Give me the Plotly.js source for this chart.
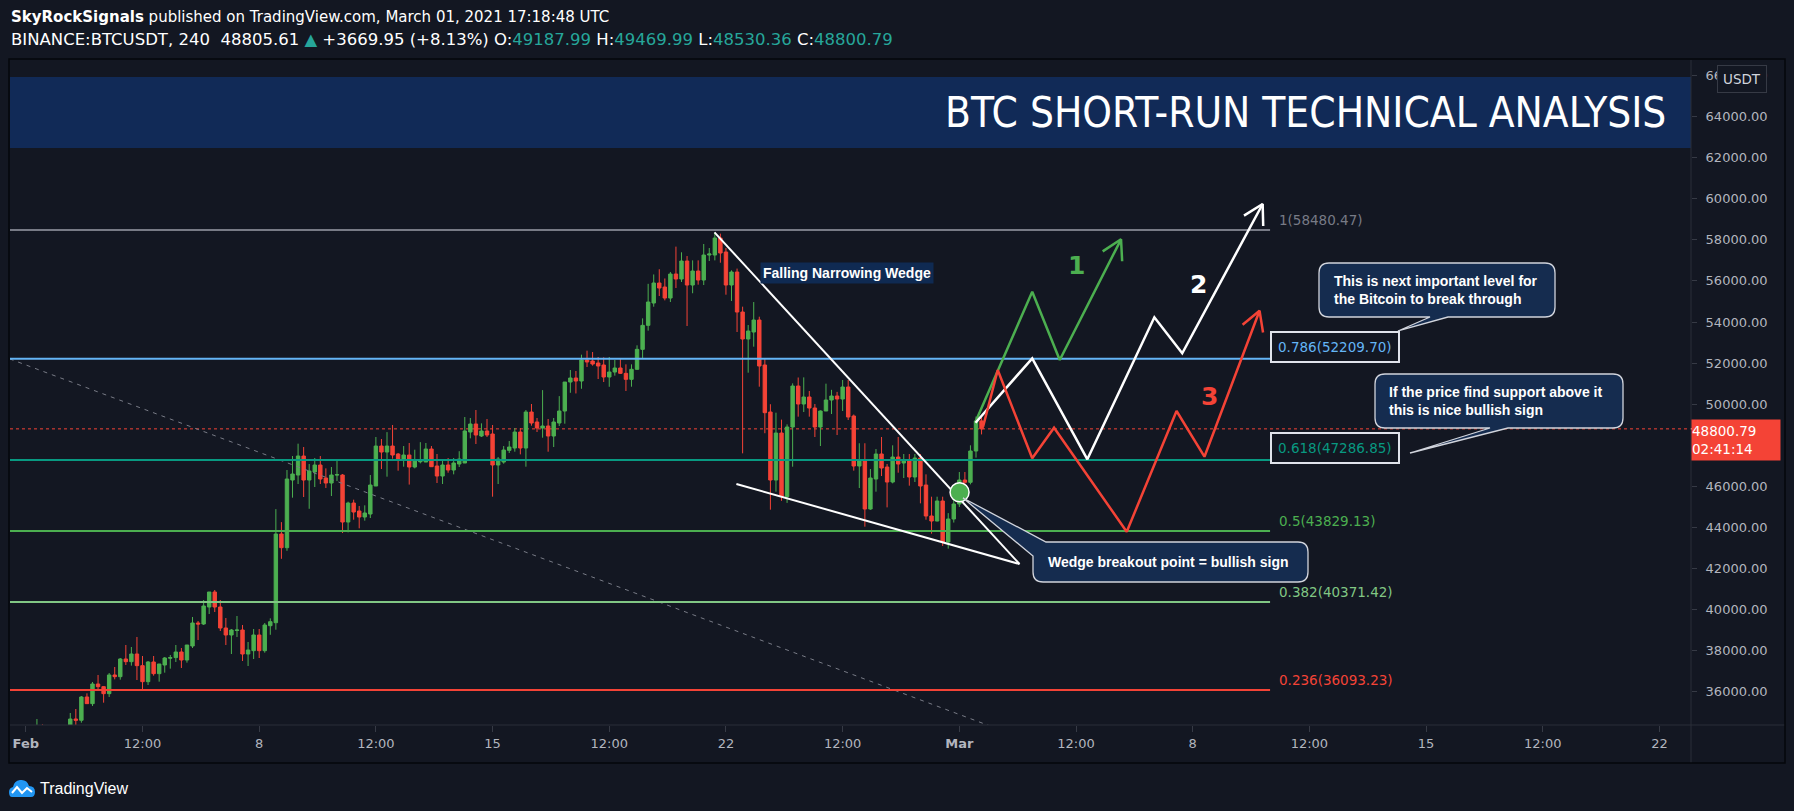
<!DOCTYPE html>
<html><head><meta charset="utf-8">
<script src="https://cdn.plot.ly/plotly-3.0.1.min.js"></script>
<style>html,body{margin:0;padding:0;background:#131722;}#chart{width:1794px;height:811px;}</style>
</head><body><div id="chart"></div>
<script>
// ================= DATA =================
const candleStartUTC = Date.UTC(2021, 1, 1, 0, 0); // first 4H candle, Feb 1 00:00
const candleHours = 4;

const open = [33100,33500,33300,34250,33800,33650,33550,33850,34100,34682,34620,35753,35429,36385,36256,35915,36824,36742,37602,37472,
37845,37278,36499,37456,36888,37310,37640,37670,37943,37553,38235,39354,39305,40132,40862,40132,39110,38770,38990,39013,
37845,38007,38769,38007,39222,39368,43684,43019,46311,46554,47479,46311,46700,47041,46409,46165,46554,46554,44267,45192,
44803,44511,44657,46019,47965,47673,47965,47576,47284,47528,46944,47200,47187,47820,46993,46506,47042,46798,47090,47139,
48647,49037,48453,48696,48550,47042,47187,47754,47868,48647,47868,49620,49134,48842,48940,48453,49085,49669,51080,51275,
51129,52151,52103,52005,51908,51324,51567,51762,51502,51210,51697,52670,53838,54924,55898,55703,55167,56335,56092,56968,
55800,56481,56043,57260,57260,58087,57406,55800,56433,54486,53173,53513,54097,51908,49620,46311,48598,45500,48890,50885,
50010,50351,49816,48891,49670,50205,50400,50254,50838,49427,46993,47236,44901,46360,47577,46944,46214,47430,47139,47285,
46458,47382,46068,44560,44316,45290,43295,44414,45144,46311,46200,47723,49187.99];
const high = [34100,33900,34682,34423,34200,34000,33950,34300,34974,35169,35801,35931,36483,36824,36288,36921,37213,37651,38283,38186,
38673,37748,37505,37748,37359,37699,37797,38283,38137,38283,39646,39451,40473,40862,40960,40473,39597,39062,39694,39256,
38429,39061,39061,39352,39580,44895,44262,46798,47479,48080,47917,47090,47382,47479,46878,46944,47257,46603,45257,45355,
45046,45079,46554,48404,48307,48642,48988,47625,47965,48112,47787,48153,48112,47965,47577,47252,47382,47382,47714,49377,
49329,49718,49069,49280,48988,47430,47965,48209,48842,48842,49718,50010,49329,50686,49280,49329,50394,51080,51665,51616,
52411,52605,52540,52297,52281,52297,52151,52200,51940,51940,52865,54178,55859,56314,56568,56119,56433,57668,57392,57211,
57000,57000,57796,57601,58350,58300,57600,56514,56600,54747,53854,54972,54259,52200,50000,49588,49250,49020,51015,51300,
51307,50643,50010,49700,51000,50700,50600,51178,51178,49500,48100,48100,46847,47820,48404,47090,48000,48404,47577,47577,
47577,47577,46587,45500,45500,45500,44700,45500,46700,46700,48000,49400,49469.99];
const low = [32300,32900,33200,33700,33400,33300,33400,33700,33900,34390,34504,35429,35315,36093,35477,35753,36612,36596,37310,37278,
36580,36142,36337,36791,36499,36937,37132,37456,37164,37424,38137,38526,39256,39791,39889,38964,38283,37845,38673,37505,
37261,37601,37650,37910,38780,39028,42477,42866,45452,46117,45485,44911,45971,46117,45923,45533,46260,43733,43765,44381,
43960,44333,44462,46019,46847,46474,47349,46765,46960,46090,46879,47122,47187,46944,46165,46117,46668,46587,46944,47139,
48339,48063,48404,48404,45500,46117,47106,47626,47690,47560,46960,48956,48647,48371,47690,47917,48939,49053,50556,50524,
50751,51811,51876,51227,51080,50848,51389,51470,50642,50853,51680,52232,53579,54745,55265,55054,54973,55654,55947,53806,
55400,55817,55800,56968,57000,56886,55330,55022,53513,47610,51534,52800,50853,48588,44868,45744,45300,45198,46960,49394,
49620,49394,48404,47966,49670,49524,48500,49670,49232,46766,45920,44041,44860,45744,46506,44981,46149,46668,46409,46036,
46214,45176,44381,43700,44300,43100,42973,44241,45000,45700,46100,47400,48530.36];
const close = [33500,33300,34250,33800,33650,33550,33850,34100,34682,34620,35753,35429,36385,36256,35915,36824,36742,37602,37472,37845,
37278,36499,37456,36888,37359,37651,37670,37943,37553,38283,39354,39305,40181,40862,40132,39110,38770,39013,39013,37845,
38040,38769,38007,39255,39417,43684,43019,46360,46603,47479,46311,46749,47041,46360,46165,46554,46570,44267,45192,44754,
44511,44706,46068,47965,47673,47965,47528,47284,47528,46944,47284,47284,47820,46960,46506,47042,46798,47139,47333,48696,
49037,48501,48696,48501,47042,47333,47771,47917,48647,47868,49620,49085,48842,48940,48453,49134,49669,51080,51275,51129,
52151,52054,51957,51859,51324,51567,51762,51502,51210,51697,52670,53838,54973,55898,55654,55167,56335,56092,56968,55800,
56481,56043,57260,57309,58087,57357,55800,56433,54486,53173,53562,54097,51859,49588,46311,48598,45500,48890,50885,50010,
50350,49816,48891,49670,50205,50400,50254,50838,49378,46993,47236,44901,46409,47577,46895,46214,47430,47090,47236,46458,
47382,46020,44560,44316,45290,43295,44414,45144,46311,46200,47723,49183,48800.79];

// Fibonacci retracement levels
const fibRatios = ['1', '0.786', '0.618', '0.5', '0.382', '0.236'];
const fibPrices = [58480.47, 52209.70, 47286.85, 43829.13, 40371.42, 36093.23];

// axis ticks (48000 is hidden under the last-price label in the reference)
const yTickValues = [36000, 38000, 40000, 42000, 44000, 46000, 50000, 52000, 54000, 56000, 58000, 60000, 62000, 64000, 66000];
const xTickDates = ['2021-02-01','2021-02-04 12:00','2021-02-08','2021-02-11 12:00','2021-02-15','2021-02-18 12:00','2021-02-22',
  '2021-02-25 12:00','2021-03-01','2021-03-04 12:00','2021-03-08','2021-03-11 12:00','2021-03-15','2021-03-18 12:00','2021-03-22'];
const xTickText = ['<b>Feb</b>','12:00','8','12:00','15','12:00','22','12:00','<b>Mar</b>','12:00','8','12:00','15','12:00','22'];

// drawings (date, price)
const trendX = ['2021-01-30 00:00', '2021-03-02 12:00'];
const trendY = [53127, 33991];
const wedgeUpperX = ['2021-02-21 15:46', '2021-03-02 19:19'];
const wedgeUpperY = [58365, 42224];
const wedgeLowerX = ['2021-02-22 07:31', '2021-03-02 19:19'];
const wedgeLowerY = [46117, 42224];
const breakoutX = ['2021-03-01 00:10'];
const breakoutY = [45713];

const path1X = ['2021-03-01 11:40','2021-03-03 04:29','2021-03-04 00:17','2021-03-05 20:25'];
const path1Y = [49149, 55474, 52151, 58024];
const path2X = ['2021-03-01 11:40','2021-03-03 04:29','2021-03-04 20:10','2021-03-06 20:24','2021-03-07 16:28','2021-03-10 02:21'];
const path2Y = [49100, 52234, 47319, 54229, 52477, 59742];
const path3X = ['2021-03-01 17:05','2021-03-02 03:39','2021-03-03 04:29','2021-03-03 20:11','2021-03-06 00:30','2021-03-07 12:22','2021-03-08 08:27','2021-03-10 00:07'];
const path3Y = [48905, 51664, 47368, 48857, 43796, 49669, 47445, 54550];

const lastClose = 48800.79;

// ================= LAYOUT CONSTANTS =================
const W = 1794, Hh = 811;
const M = {l:10, r:103, t:62, b:86};
const PW = W - M.l - M.r, PH = Hh - M.t - M.b;
const X0 = '2021-01-31 12:37', X1 = '2021-03-22 22:42';
const Y0 = 34390, Y1 = 66653;
const fibEnd = '2021-03-10 07:41';
const fibLabelX = '2021-03-10 12:29';
const fibColors = ['#787b86','#64b5f6','#089981','#4caf50','#81c784','#f44336'];
const GREEN = '#4caf50', RED = '#f44336';
const FONT = 'DejaVu Sans, Verdana, sans-serif';
const px = x => (x - M.l) / PW;
const py = y => (M.t + PH - y) / PH;

const ms = s => Date.parse(s.replace(' ', 'T') + 'Z');
const fmt = t => new Date(t).toISOString().slice(0, 19).replace('T', ' ');

const dates = open.map((_, k) => fmt(candleStartUTC + k * candleHours * 3600e3));

// arrowhead wings computed in pixel space
function wings(xs, ys, len, ang) {
  const n = xs.length;
  const sx = PW / (ms(X1) - ms(X0)), sy = PH / (Y1 - Y0);
  const tx = ms(xs[n-1]) * sx, ty = ys[n-1] * sy;
  const qx = ms(xs[n-2]) * sx, qy = ys[n-2] * sy;
  let ux = qx - tx, uy = qy - ty; const d = Math.hypot(ux, uy); ux /= d; uy /= d;
  const c = Math.cos(ang), s = Math.sin(ang);
  const a = [ux*c - uy*s, ux*s + uy*c], b = [ux*c + uy*s, -ux*s + uy*c];
  return {
    x: [fmt((tx + a[0]*len)/sx), xs[n-1], fmt((tx + b[0]*len)/sx)],
    y: [(ty + a[1]*len)/sy, ys[n-1], (ty + b[1]*len)/sy]
  };
}

const traces = [];
traces.push({
  type: 'candlestick', x: dates, open, high, low, close,
  increasing: {line: {color: GREEN, width: 1}, fillcolor: GREEN},
  decreasing: {line: {color: RED, width: 1}, fillcolor: RED},
  whiskerwidth: 0, hoverinfo: 'skip'
});
traces.push({type:'scatter', mode:'lines', x: trendX, y: trendY, line:{color:'#787b86', width:1, dash:'4px,5px'}, hoverinfo:'skip'});
fibPrices.forEach((p, i) => {
  traces.push({type:'scatter', mode:'lines', x:[X0, fibEnd], y:[p, p], line:{color:fibColors[i], width:2}, hoverinfo:'skip'});
});
traces.push({type:'scatter', mode:'lines', x: wedgeUpperX, y: wedgeUpperY, line:{color:'#ffffff', width:2}, hoverinfo:'skip'});
traces.push({type:'scatter', mode:'lines', x: wedgeLowerX, y: wedgeLowerY, line:{color:'#ffffff', width:2}, hoverinfo:'skip'});
[[path1X, path1Y, GREEN], [path2X, path2Y, '#ffffff'], [path3X, path3Y, RED]].forEach(([xs, ys, col]) => {
  traces.push({type:'scatter', mode:'lines', x: xs, y: ys, line:{color: col, width: 2.5}, hoverinfo:'skip'});
  const w = wings(xs, ys, 22, 0.52);
  traces.push({type:'scatter', mode:'lines', x: w.x, y: w.y, line:{color: col, width: 2.5}, hoverinfo:'skip'});
});
traces.push({type:'scatter', mode:'markers', x: breakoutX, y: breakoutY,
  marker:{size:19, color: GREEN, line:{color:'#ffffff', width:1.5}}, hoverinfo:'skip'});

// ---------- shapes ----------
function calloutPath(x0, y0, x1, y1, r, tail) {
  const P = (x, y) => px(x).toFixed(5) + ',' + py(y).toFixed(5);
  let d;
  if (tail.edge === 'bottom') {
    d = 'M' + P(x0+r, y0) + ' L' + P(x1-r, y0) + ' Q' + P(x1, y0) + ' ' + P(x1, y0+r) +
        ' L' + P(x1, y1-r) + ' Q' + P(x1, y1) + ' ' + P(x1-r, y1) +
        ' L' + P(tail.b, y1) + ' L' + P(tail.tip[0], tail.tip[1]) + ' L' + P(tail.a, y1) +
        ' L' + P(x0+r, y1) + ' Q' + P(x0, y1) + ' ' + P(x0, y1-r) +
        ' L' + P(x0, y0+r) + ' Q' + P(x0, y0) + ' ' + P(x0+r, y0) + ' Z';
  } else {
    d = 'M' + P(tail.a[0], tail.a[1]) + ' L' + P(x1-r, y0) + ' Q' + P(x1, y0) + ' ' + P(x1, y0+r) +
        ' L' + P(x1, y1-r) + ' Q' + P(x1, y1) + ' ' + P(x1-r, y1) +
        ' L' + P(x0+r, y1) + ' Q' + P(x0, y1) + ' ' + P(x0, y1-r) +
        ' L' + P(tail.b[0], tail.b[1]) + ' L' + P(tail.tip[0], tail.tip[1]) + ' Z';
  }
  return d;
}
const calloutStyle = {type:'path', xref:'paper', yref:'paper', fillcolor:'#152c4f', line:{color:'#d1d4dc', width:1.3}, layer:'above'};
const Pp = (x, y) => px(x).toFixed(5) + ',' + py(y).toFixed(5);

const shapes = [
  {type:'rect', xref:'paper', yref:'paper', x0: px(10), x1: px(1691), y0: py(148), y1: py(77), fillcolor:'#112a57', line:{width:0}, layer:'below'},
  {type:'line', xref:'paper', yref:'y', x0: 0, x1: 1, y0: lastClose, y1: lastClose, line:{color: RED, width:1, dash:'dot'}, layer:'below'},
  {type:'line', xref:'paper', yref:'paper', x0: px(10), x1: px(1785), y0: py(725), y1: py(725), line:{color:'#2a2e39', width:1}},
  {type:'line', xref:'paper', yref:'paper', x0: px(1691), x1: px(1691), y0: py(60), y1: py(763), line:{color:'#2a2e39', width:1}},
  {type:'rect', xref:'paper', yref:'paper', x0: px(9), x1: px(1785), y0: py(763), y1: py(59), line:{color:'#05070b', width:1.5}, fillcolor:'rgba(0,0,0,0)'},
  Object.assign({path: calloutPath(1319, 263, 1555, 317, 10, {edge:'bottom', a:1430, b:1448, tip:[1398, 331]})}, calloutStyle),
  Object.assign({path: calloutPath(1375, 374, 1623, 428, 10, {edge:'bottom', a:1490, b:1508, tip:[1410, 453]})}, calloutStyle),
  Object.assign({path: calloutPath(1033, 542, 1308, 582, 10, {edge:'topleft', a:[1046, 542], b:[1033, 556], tip:[963, 498]})}, calloutStyle),
  // TradingView logo
  {type:'path', xref:'paper', yref:'paper', fillcolor:'#2196f3', line:{width:0},
   path: 'M'+Pp(12,797)+' L'+Pp(31,797)+' Q'+Pp(35,797)+' '+Pp(35,792)+' Q'+Pp(35,786)+' '+Pp(29,786)+' Q'+Pp(27,779)+' '+Pp(20,780)+' Q'+Pp(14,781)+' '+Pp(13,787)+' Q'+Pp(9,788)+' '+Pp(9,792)+' Q'+Pp(9,797)+' '+Pp(12,797)+' Z'},
  {type:'path', xref:'paper', yref:'paper', line:{color:'#ffffff', width:2},
   path: 'M'+Pp(12,793)+' L'+Pp(17,787)+' L'+Pp(22,793)+' L'+Pp(27,788)+' L'+Pp(32,792)},
  {type:'line', xref:'paper', yref:'y', x0: px(1691), x1: px(1698), y0: lastClose, y1: lastClose, line:{color:'#ffffff', width:1}}
];

// ---------- annotations ----------
const teal = t => '<span style="color:#26a69a">' + t + '</span>';
const ann = [];
ann.push({xref:'paper', yref:'paper', x: px(9), y: py(17), xanchor:'left', yanchor:'middle', showarrow:false,
  text:'<b>SkyRockSignals</b> published on TradingView.com, March 01, 2021 17:18:48 UTC', font:{family: FONT, size:15, color:'#ffffff'}});
ann.push({xref:'paper', yref:'paper', x: px(9), y: py(40), xanchor:'left', yanchor:'middle', showarrow:false,
  text:'BINANCE:BTCUSDT, 240\u00a0\u00a048805.61 ' + teal('\u25B2') + ' +3669.95 (+8.13%) O:' + teal(open[open.length-1].toFixed(2)) +
       ' H:' + teal(high[high.length-1].toFixed(2)) + ' L:' + teal(low[low.length-1].toFixed(2)) + ' C:' + teal(close[close.length-1].toFixed(2)),
  font:{family: FONT, size:16.5, color:'#ffffff'}});
ann.push({xref:'paper', yref:'paper', x: px(1668), y: py(113), xanchor:'right', yanchor:'middle', showarrow:false,
  text:'BTC SHORT-RUN TECHNICAL ANALYSIS', font:{family:'Liberation Sans Narrow, DejaVu Sans Condensed, sans-serif', size:42, color:'#ffffff'}});
fibPrices.forEach((p, i) => {
  const boxed = (i === 1 || i === 2);
  const a = {xref:'x', yref:'y', x: boxed ? fibEnd : fibLabelX, y: p, xanchor:'left', yanchor:'middle', yshift: boxed ? 12 : 10,
    showarrow:false, text: fibRatios[i] + '(' + p.toFixed(2) + ')', font:{family: FONT, size:13.5, color: fibColors[i]}};
  if (boxed) { a.bordercolor = '#e0e3eb'; a.borderwidth = 2; a.borderpad = 6; a.bgcolor = '#131722'; }
  ann.push(a);
});
const cFont = {family:'Liberation Sans, Arial, sans-serif', size:14, color:'#ffffff', weight:'bold'};
ann.push({xref:'paper', yref:'paper', x: px(1332), y: py(290), xanchor:'left', yanchor:'middle', align:'left', showarrow:false,
  text:'This is next important level for<br>the Bitcoin to break through', font: cFont});
ann.push({xref:'paper', yref:'paper', x: px(1387), y: py(401), xanchor:'left', yanchor:'middle', align:'left', showarrow:false,
  text:'If the price find support above it<br>this is nice bullish sign', font: cFont});
ann.push({xref:'paper', yref:'paper', x: px(1046), y: py(562), xanchor:'left', yanchor:'middle', align:'left', showarrow:false,
  text:'Wedge breakout point = bullish sign', font: cFont});
ann.push({xref:'x', yref:'y', x:'2021-02-25 14:48', y: 56384, xanchor:'center', yanchor:'middle', showarrow:false,
  text:'Falling Narrowing Wedge', bgcolor:'#0f2a52', borderpad:2,
  font:{family:'Liberation Sans, Arial, sans-serif', size:14, color:'#ffffff', weight:'bold'}});
[['1', '2021-03-04 12:40', 56774, GREEN], ['2', '2021-03-08 04:21', 55834, '#ffffff'], ['3', '2021-03-08 11:46', 50365, RED]].forEach(([t, x, y, c]) => {
  ann.push({xref:'x', yref:'y', x, y, showarrow:false, text:'<b>' + t + '</b>', font:{family: FONT, size:25, color: c}});
});
ann.push({xref:'paper', yref:'paper', x: px(1742), y: py(79), xanchor:'center', yanchor:'middle', showarrow:false,
  text:'USDT', bgcolor:'#131722', bordercolor:'#363a45', borderwidth:1, borderpad:5, font:{family: FONT, size:13.5, color:'#d1d4dc'}});
ann.push({xref:'paper', yref:'y', x: px(1691), y: lastClose, xanchor:'left', yanchor:'top', yshift: 10, showarrow:false,
  width: 88, height: 40, align:'left', bgcolor: RED, borderpad: 0,
  text: lastClose.toFixed(2) + '<br>02:41:14', font:{family: FONT, size:13.5, color:'#ffffff'}});
ann.push({xref:'paper', yref:'paper', x: px(38), y: py(788), xanchor:'left', yanchor:'middle', showarrow:false,
  text:'TradingView', font:{family:'Liberation Sans, Arial, sans-serif', size:16, color:'#ffffff'}});

const layout = {
  width: W, height: Hh, margin: M,
  paper_bgcolor:'#131722', plot_bgcolor:'#131722',
  showlegend:false, boxgap: 0.12, hovermode:false,
  xaxis: {type:'date', range:[X0, X1], rangeslider:{visible:false}, showgrid:false, zeroline:false, showline:false,
    tickmode:'array', tickvals: xTickDates, ticktext: xTickText, ticks:'outside', ticklen:6, tickcolor:'#363a45',
    tickfont:{family: FONT, size:13, color:'#b2b5be'}, fixedrange:true},
  yaxis: {side:'right', range:[Y0, Y1], tickmode:'array', tickvals: yTickValues, tickformat:'.2f', showgrid:false, zeroline:false, showline:false,
    ticks:'outside', ticklen:5, tickcolor:'#363a45', ticklabelstandoff: 6,
    tickfont:{family: FONT, size:13, color:'#b2b5be'}, fixedrange:true},
  shapes, annotations: ann
};
Plotly.newPlot('chart', traces, layout, {displayModeBar:false, staticPlot:true});
</script></body></html>
